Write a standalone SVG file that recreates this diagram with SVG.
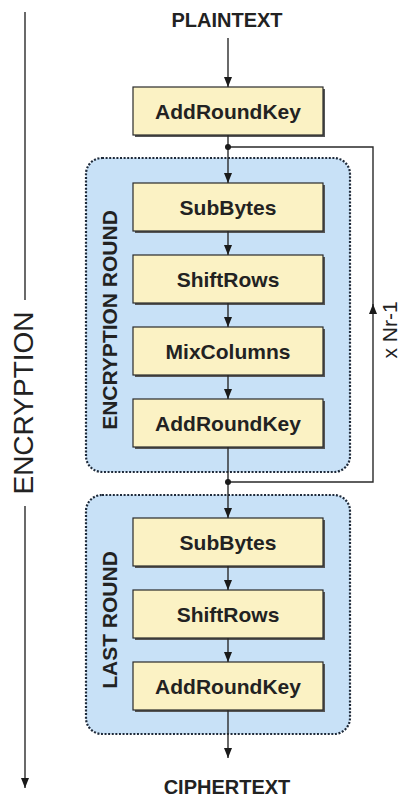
<svg xmlns="http://www.w3.org/2000/svg" width="403" height="801" viewBox="0 0 403 801">
  <style>
    .step rect.body { fill: #fbf2c4; stroke: #2a2a2a; stroke-width: 1.2; }
    .step rect.shade { fill: #555; }
    .step text { font-family: "Liberation Sans", Arial, sans-serif; font-weight: bold; font-size: 21px; fill: #222; text-anchor: middle; }
    .round rect { fill: #c8e1f7; stroke: #1e2a3a; stroke-width: 2.2; stroke-dasharray: 2 1.6; }
    .round text { font-family: "Liberation Sans", Arial, sans-serif; font-weight: bold; font-size: 21px; fill: #222; text-anchor: middle; }
    .io { font-family: "Liberation Sans", Arial, sans-serif; font-weight: bold; font-size: 20px; fill: #222; text-anchor: middle; }
    .side { font-family: "Liberation Sans", Arial, sans-serif; font-size: 28px; fill: #222; text-anchor: middle; }
    .loop { font-family: "Liberation Sans", Arial, sans-serif; font-size: 21px; fill: #222; text-anchor: middle; }
    .wire { fill: none; stroke: #2a2a2a; stroke-width: 1.4; }
    .arrow { marker-end: url(#head); }
  </style>
  <defs>
    <marker id="head" markerUnits="userSpaceOnUse" markerWidth="10" markerHeight="12" refX="10" refY="4" orient="auto">
      <path d="M0,0 L10,4 L0,8 z" fill="#1a1a1a"/>
    </marker>
  </defs>

  <rect width="403" height="801" fill="#ffffff"/>

  <!-- round containers -->
  <g id="encryption-round" class="round">
    <rect x="86" y="158" width="264" height="314" rx="16"/>
    <text transform="translate(117,320) rotate(-90)">ENCRYPTION ROUND</text>
  </g>
  <g id="last-round" class="round">
    <rect x="86" y="495" width="264" height="239" rx="16"/>
    <text transform="translate(117,620) rotate(-90)">LAST ROUND</text>
  </g>

  <!-- input / output labels -->
  <g id="plaintext"><text class="io" x="227" y="27">PLAINTEXT</text></g>
  <g id="ciphertext"><text class="io" x="227" y="794">CIPHERTEXT</text></g>

  <!-- processing steps -->
  <g id="addroundkey-initial" class="step">
    <rect class="shade" x="135" y="89" width="190" height="48"/>
    <rect class="body" x="133" y="87" width="190" height="48"/>
    <text x="228" y="119">AddRoundKey</text>
  </g>
  <g id="subbytes-1" class="step">
    <rect class="shade" x="135" y="185" width="190" height="48"/>
    <rect class="body" x="133" y="183" width="190" height="48"/>
    <text x="228" y="215">SubBytes</text>
  </g>
  <g id="shiftrows-1" class="step">
    <rect class="shade" x="135" y="257" width="190" height="48"/>
    <rect class="body" x="133" y="255" width="190" height="48"/>
    <text x="228" y="287">ShiftRows</text>
  </g>
  <g id="mixcolumns" class="step">
    <rect class="shade" x="135" y="329" width="190" height="48"/>
    <rect class="body" x="133" y="327" width="190" height="48"/>
    <text x="228" y="359">MixColumns</text>
  </g>
  <g id="addroundkey-1" class="step">
    <rect class="shade" x="135" y="401" width="190" height="48"/>
    <rect class="body" x="133" y="399" width="190" height="48"/>
    <text x="228" y="431">AddRoundKey</text>
  </g>
  <g id="subbytes-2" class="step">
    <rect class="shade" x="135" y="520" width="190" height="48"/>
    <rect class="body" x="133" y="518" width="190" height="48"/>
    <text x="228" y="550">SubBytes</text>
  </g>
  <g id="shiftrows-2" class="step">
    <rect class="shade" x="135" y="592" width="190" height="48"/>
    <rect class="body" x="133" y="590" width="190" height="48"/>
    <text x="228" y="622">ShiftRows</text>
  </g>
  <g id="addroundkey-2" class="step">
    <rect class="shade" x="135" y="664" width="190" height="48"/>
    <rect class="body" x="133" y="662" width="190" height="48"/>
    <text x="228" y="694">AddRoundKey</text>
  </g>

  <!-- side label and loop count -->
  <g id="encryption-axis">
    <path class="wire" d="M25,12 V300"/>
    <path class="wire arrow" d="M25,506 V788"/>
    <text class="side" transform="translate(33,403) rotate(-90)">ENCRYPTION</text>
  </g>
  <g id="repeat-label">
    <text class="loop" transform="translate(397,330) rotate(-90)">x Nr-1</text>
  </g>

  <!-- connectors -->
  <g id="connectors">
    <path class="wire arrow" d="M228,38 V87"/>
    <path class="wire arrow" d="M228,135 V183"/>
    <path class="wire arrow" d="M228,231 V255"/>
    <path class="wire arrow" d="M228,303 V327"/>
    <path class="wire arrow" d="M228,375 V399"/>
    <path class="wire arrow" d="M228,447 V518"/>
    <path class="wire arrow" d="M228,566 V590"/>
    <path class="wire arrow" d="M228,638 V662"/>
    <path class="wire arrow" d="M228,710 V758"/>
    <!-- feedback loop for the repeated rounds -->
    <path class="wire arrow" d="M228,482 H373 V304"/>
    <path class="wire" d="M373,306 V147 H228"/>
    <circle cx="228" cy="147" r="3" fill="#1a1a1a"/>
    <circle cx="228" cy="482" r="3" fill="#1a1a1a"/>
  </g>
</svg>
